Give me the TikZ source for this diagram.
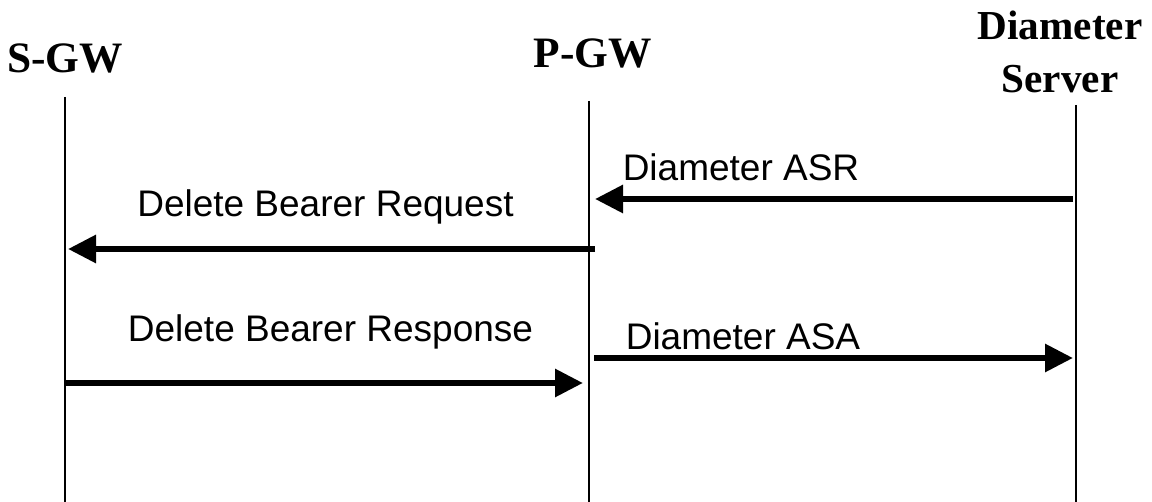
\documentclass[tikz,border=0pt]{standalone}
\usepackage{fontspec}
\setmainfont{Liberation Sans}
\newfontfamily\hdrfont{Liberation Serif}
\usetikzlibrary{arrows.meta}
\tikzset{
  lifeline/.style={line width=0.9pt, black},
  msg/.style={line width=3pt, -{Triangle[length=14pt,width=13.5pt]}},
  msgtext/.style={anchor=base, inner sep=0pt, font=\fontsize{18.5}{21}\selectfont},
  hdr/.style={anchor=base, inner sep=0pt, align=center, font=\hdrfont\bfseries\fontsize{21.7}{26.5}\selectfont},
}
\begin{document}
\begin{tikzpicture}[x=0.5pt,y=-0.5pt]
\useasboundingbox (0,0) rectangle (1152,502);
% headers
\node[hdr] (sgw) at (65,73) {S-GW};
\node[hdr] (pgw) at (593,68) {P-GW};
\node[hdr, font=\hdrfont\bfseries\fontsize{20.6}{26.5}\selectfont] (dsa) at (1060,40) {Diameter};
\node[hdr, font=\hdrfont\bfseries\fontsize{20.6}{26.5}\selectfont] (dsb) at (1060,93) {Server};
% lifelines
\coordinate (s0) at (65,97);   \coordinate (s1) at (65,502);
\coordinate (p0) at (589,101); \coordinate (p1) at (589,502);
\coordinate (d0) at (1076,105); \coordinate (d1) at (1076,502);
\draw[lifeline] (s0) -- (s1);
\draw[lifeline] (p0) -- (p1);
\draw[lifeline] (d0) -- (d1);
% message end points
\coordinate (asrA) at (1073,199); \coordinate (asrB) at (595,199);
\coordinate (dbrqA) at (595,249); \coordinate (dbrqB) at (68,249);
\coordinate (dbrsA) at (65,383); \coordinate (dbrsB) at (583,383);
\coordinate (asaA) at (594,358); \coordinate (asaB) at (1073,358);
\draw[msg] (asrA) -- (asrB);
\draw[msg] (dbrqA) -- (dbrqB);
\draw[msg] (dbrsA) -- (dbrsB);
\draw[msg] (asaA) -- (asaB);
% labels
\node[msgtext] (lasr) at (741,181) {Diameter ASR};
\node[msgtext] (ldbrq) at (325.5,217) {Delete Bearer Request};
\node[msgtext] (ldbrs) at (330.5,342) {Delete Bearer Response};
\node[msgtext] (lasa) at (743,350) {Diameter ASA};
\end{tikzpicture}
\end{document}
